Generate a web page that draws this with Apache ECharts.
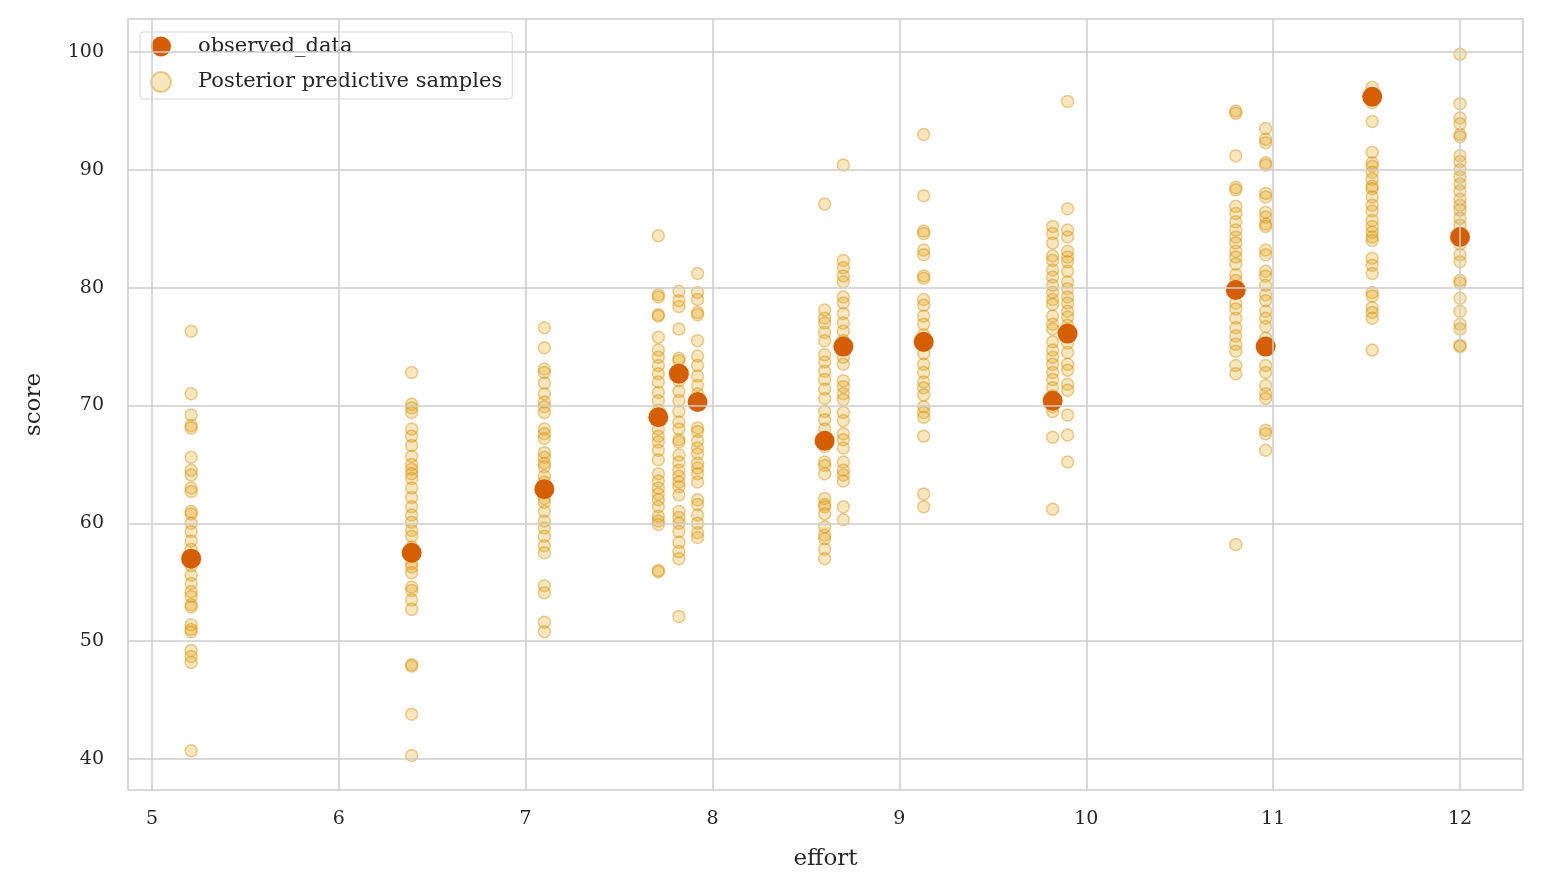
<!DOCTYPE html>
<html>
<head>
<meta charset="utf-8">
<script src="https://cdn.jsdelivr.net/npm/echarts@6/dist/echarts.min.js"></script>
<style>html,body{margin:0;padding:0;background:#fff}#chart{width:1542px;height:894px}</style>
</head>
<body>
<div id="chart"></div>
<script>
// observed points
var obsEffort = [5.21, 6.39, 7.10, 7.71, 7.82, 7.92, 8.60, 8.70, 9.13, 9.82, 9.90, 10.80, 10.96, 11.53, 12.00];
var obsScore = [57.0, 57.5, 62.9, 69.0, 72.7, 70.3, 67.0, 75.0, 75.4, 70.4, 76.1, 79.8, 75.0, 96.2, 84.3];

// tick labels
var xTicks = [5, 6, 7, 8, 9, 10, 11, 12];
var yTicks = [40, 50, 60, 70, 80, 90, 100];

// posterior predictive samples, one list per effort value
var ppc = [
  [76.3, 71.0, 69.2, 68.3, 68.1, 65.6, 64.5, 64.1, 63.0, 62.7, 61.0, 60.8, 60.0, 59.3, 58.5, 57.8, 57.2, 56.4, 55.6, 54.9, 54.2, 53.8, 53.1, 52.9, 51.4, 51.0, 50.8, 49.2, 48.7, 48.2, 40.7],
  [72.8, 70.1, 69.8, 69.4, 68.0, 67.4, 66.6, 65.7, 65.0, 64.6, 64.2, 63.8, 63.0, 62.2, 61.4, 60.7, 60.1, 59.4, 58.9, 58.0, 57.2, 56.6, 56.3, 55.8, 54.6, 54.3, 53.5, 52.7, 48.0, 47.9, 43.8, 40.3],
  [76.6, 74.9, 73.1, 72.8, 71.9, 71.0, 70.3, 69.9, 69.4, 68.0, 67.6, 67.2, 66.0, 65.6, 65.1, 64.8, 64.0, 63.5, 62.1, 61.8, 61.0, 60.2, 59.6, 58.9, 58.1, 57.5, 54.7, 54.1, 51.6, 50.8],
  [84.4, 79.4, 79.2, 77.7, 77.6, 75.8, 74.7, 74.1, 73.4, 72.7, 72.0, 71.1, 70.4, 69.6, 68.9, 68.0, 67.4, 66.9, 66.2, 65.4, 64.2, 63.6, 63.0, 62.5, 62.0, 61.4, 60.6, 60.2, 59.9, 56.0, 55.9],
  [79.7, 78.9, 78.4, 76.5, 74.0, 73.8, 72.1, 71.2, 70.4, 69.5, 68.6, 68.0, 67.1, 66.9, 65.8, 65.2, 64.5, 64.0, 63.5, 63.1, 62.4, 61.0, 60.5, 60.0, 59.3, 58.4, 57.6, 57.0, 52.1],
  [81.2, 79.6, 79.0, 77.9, 77.7, 75.5, 74.2, 73.4, 72.5, 71.7, 71.0, 70.1, 68.1, 67.8, 67.0, 66.4, 65.9, 65.1, 64.7, 64.2, 63.5, 62.0, 61.6, 60.7, 60.0, 59.2, 58.8],
  [87.1, 78.1, 77.4, 77.0, 76.2, 75.5, 74.3, 73.7, 72.9, 72.2, 71.4, 70.6, 69.5, 68.8, 68.0, 67.3, 66.5, 65.2, 64.9, 64.2, 62.1, 61.6, 61.4, 60.8, 59.7, 59.0, 58.7, 57.8, 57.0],
  [90.4, 82.3, 81.7, 81.0, 80.5, 79.2, 78.7, 77.8, 77.0, 76.3, 75.5, 74.1, 73.5, 72.1, 71.6, 71.0, 70.5, 69.4, 68.7, 67.6, 67.1, 66.4, 65.2, 64.5, 64.1, 63.6, 61.4, 60.3],
  [93.0, 87.8, 84.8, 84.6, 83.2, 82.8, 81.0, 80.8, 79.0, 78.5, 77.6, 76.9, 76.0, 75.1, 74.4, 73.5, 72.8, 72.0, 71.5, 70.9, 69.9, 69.4, 69.0, 67.4, 62.5, 61.4],
  [85.2, 84.6, 83.8, 82.7, 82.3, 81.5, 80.9, 80.2, 79.6, 79.0, 78.6, 77.6, 76.9, 76.5, 75.4, 74.7, 74.1, 73.5, 72.8, 72.2, 71.5, 70.8, 69.9, 69.5, 67.3, 61.2],
  [95.8, 86.7, 84.9, 84.3, 83.1, 82.6, 82.2, 81.4, 80.5, 79.9, 79.2, 78.7, 78.0, 77.5, 76.8, 76.0, 75.3, 74.5, 73.5, 73.0, 71.8, 71.3, 69.2, 67.5, 65.2],
  [95.0, 94.8, 91.2, 88.5, 88.3, 86.9, 86.3, 85.6, 84.9, 84.3, 83.8, 83.1, 82.6, 82.0, 81.1, 80.6, 79.8, 78.7, 78.2, 77.4, 76.6, 75.9, 75.2, 74.6, 73.4, 72.7, 58.2],
  [93.5, 92.6, 92.3, 90.6, 90.4, 88.0, 87.7, 86.4, 86.0, 85.4, 85.2, 83.2, 82.8, 81.4, 81.0, 80.2, 79.4, 78.9, 78.0, 77.4, 76.7, 75.7, 74.8, 73.4, 72.8, 71.7, 71.0, 70.6, 67.9, 67.6, 66.2],
  [97.0, 95.7, 94.1, 91.5, 90.6, 90.3, 89.8, 89.2, 88.6, 88.4, 87.7, 87.0, 86.5, 85.7, 85.2, 84.7, 84.3, 84.0, 82.5, 81.9, 81.2, 79.6, 79.3, 78.3, 77.9, 77.4, 74.7],
  [99.8, 95.6, 94.4, 93.9, 93.0, 92.8, 91.2, 90.7, 90.0, 89.4, 88.8, 88.2, 87.5, 87.0, 86.6, 85.9, 85.3, 84.6, 83.7, 82.8, 82.2, 80.6, 80.4, 79.1, 78.0, 76.9, 76.5, 75.1, 75.0]
];

var ppcData = [];
ppc.forEach(function (col, i) {
  col.forEach(function (v) { ppcData.push([obsEffort[i], v]); });
});
var obsData = obsEffort.map(function (x, i) { return [x, obsScore[i]]; });

var gridLines = xTicks.map(function (v) { return { xAxis: v }; })
  .concat(yTicks.map(function (v) { return { yAxis: v }; }));

var chart = echarts.init(document.getElementById('chart'));
var font = 'DejaVu Serif';
chart.setOption({
  backgroundColor: '#fff',
  textStyle: { fontFamily: font },
  grid: { left: 128, right: 19, top: 19, bottom: 104, show: true, borderColor: '#cccccc', borderWidth: 1.5 },
  legend: {
    left: 140, top: 32, orient: 'vertical', itemGap: 14,
    backgroundColor: '#fff', borderColor: '#d6d6d6', borderWidth: 1, borderRadius: 3,
    padding: [4, 10, 6, 10],
    textStyle: { fontFamily: font, fontSize: 21, color: '#262626' },
    itemWidth: 64, itemHeight: 20,
    data: [
      { name: 'observed_data', icon: 'circle' },
      { name: 'Posterior predictive samples', icon: 'circle' }
    ]
  },
  xAxis: {
    type: 'value', min: 4.872, max: 12.337,
    name: 'effort', nameLocation: 'middle', nameGap: 58,
    nameTextStyle: { fontFamily: font, fontSize: 23, color: '#262626' },
    axisLine: { show: false }, axisTick: { show: false },
    axisLabel: { fontFamily: font, fontSize: 19, color: '#262626', margin: 20, customValues: xTicks },
    splitLine: { show: false }
  },
  yAxis: {
    type: 'value', min: 37.37, max: 102.8,
    name: 'score', nameLocation: 'middle', nameGap: 82,
    nameTextStyle: { fontFamily: font, fontSize: 23, color: '#262626' },
    axisLine: { show: false }, axisTick: { show: false },
    axisLabel: { fontFamily: font, fontSize: 19, color: '#262626', margin: 24, customValues: yTicks },
    splitLine: { show: false }
  },
  series: [
    {
      name: 'observed_data', type: 'scatter', data: obsData, symbolSize: 20, z: 3,
      itemStyle: { color: '#d55e00', opacity: 1 }
    },
    {
      name: 'Posterior predictive samples', type: 'scatter', data: ppcData, symbolSize: 12, z: 2,
      itemStyle: { color: 'rgba(230,159,0,0.33)', borderColor: 'rgba(210,135,0,0.5)', borderWidth: 1.5 },
      markLine: {
        silent: true, symbol: 'none', label: { show: false },
        lineStyle: { color: '#cccccc', width: 1.5, type: 'solid' },
        data: gridLines
      }
    }
  ]
});
</script>
</body>
</html>
